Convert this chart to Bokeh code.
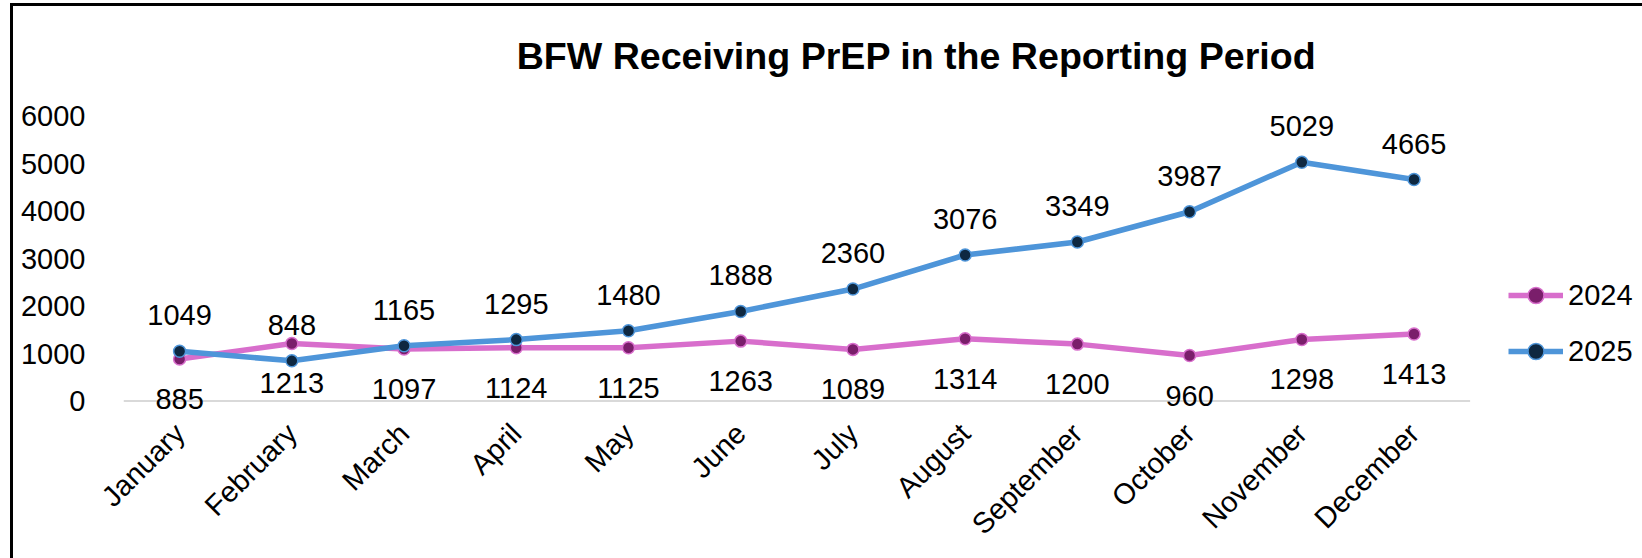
from math import pi
from bokeh.plotting import figure
from bokeh.models import ColumnDataSource, LabelSet, Label, Legend, LegendItem, Range1d, FixedTicker
from bokeh.core.properties import value
from bokeh.embed import file_html
from bokeh.resources import INLINE

months = ["January", "February", "March", "April", "May", "June", "July",
          "August", "September", "October", "November", "December"]
values_2024 = [885, 1213, 1097, 1124, 1125, 1263, 1089, 1314, 1200, 960, 1298, 1413]
values_2025 = [1049, 848, 1165, 1295, 1480, 1888, 2360, 3076, 3349, 3987, 5029, 4665]
y_ticks = [0, 1000, 2000, 3000, 4000, 5000, 6000]

title_text = "BFW Receiving PrEP in the Reporting Period"
FONT = "Liberation Sans"
FS = "29px"

c24_line, c24_fill = "#D86ECC", "#7A1E6B"
c25_line, c25_fill = "#4E95D9", "#0E2841"

idx = list(range(len(months)))
src = ColumnDataSource(dict(x=idx, m=months, v24=values_2024, v25=values_2025,
                            l24=[str(v) for v in values_2024],
                            l25=[str(v) for v in values_2025]))

W, H = 1632, 555
# frame extends to the top of the canvas (empty headroom holds the title)
p = figure(width=W, height=H, x_range=Range1d(-0.5, 13.045),
           y_range=Range1d(-450, 8307), output_backend="svg", toolbar_location=None,
           min_border_left=110, min_border_right=2, min_border_top=0,
           min_border_bottom=139)
p.title = None

p.outline_line_color = None
p.xgrid.grid_line_color = None
p.ygrid.grid_line_color = None
p.background_fill_color = "white"
p.border_fill_color = "white"
p.styles = {"border-top": "3px solid black", "border-left": "3px solid black",
            "margin-left": "10px", "margin-top": "3px"}

p.add_layout(Label(x=793, y=367, x_units="screen", y_units="screen", text=title_text,
                   text_align="center", text_baseline="middle",
                   text_font=FONT, text_font_size="37.6px",
                   text_font_style="bold", text_color="black"))

p.yaxis.ticker = y_ticks
p.yaxis.axis_line_color = None
p.yaxis.major_tick_line_color = None
p.yaxis.minor_tick_line_color = None
p.yaxis.major_label_text_font = FONT
p.yaxis.major_label_text_font_size = FS
p.yaxis.major_label_text_color = "black"
p.yaxis.major_label_standoff = 32

p.xaxis.ticker = FixedTicker(ticks=idx)
p.xaxis.major_label_overrides = {i: m for i, m in zip(idx, months)}
p.xaxis.axis_line_color = None
p.xaxis.major_tick_line_color = None
p.xaxis.minor_tick_line_color = None
p.xaxis.major_label_orientation = pi / 4
p.xaxis.major_label_text_font = FONT
p.xaxis.major_label_text_font_size = FS
p.xaxis.major_label_text_color = "black"
p.xaxis.major_label_standoff = 0

# category axis baseline (spans the category band only)
p.segment(x0=[idx[0] - 0.5], x1=[idx[-1] + 0.5], y0=[0], y1=[0],
          line_color="#D9D9D9", line_width=2)

l24 = p.line("x", "v24", source=src, line_color=c24_line, line_width=5.5)
s24 = p.scatter("x", "v24", source=src, size=12, fill_color=c24_fill,
                line_color=c24_line, line_width=1.5)
l25 = p.line("x", "v25", source=src, line_color=c25_line, line_width=5.5)
s25 = p.scatter("x", "v25", source=src, size=12, fill_color=c25_fill,
                line_color=c25_line, line_width=1.5)

p.add_layout(LabelSet(x="x", y="v24", text="l24", source=src, y_offset=-40,
                      text_align="center", text_baseline="middle",
                      text_font=value(FONT), text_font_size=FS, text_color="black"))
p.add_layout(LabelSet(x="x", y="v25", text="l25", source=src, y_offset=36,
                      text_align="center", text_baseline="middle",
                      text_font=value(FONT), text_font_size=FS, text_color="black"))

legend = Legend(items=[LegendItem(label="2024", renderers=[l24, s24]),
                       LegendItem(label="2025", renderers=[l25, s25])],
                location=(1385, 51), orientation="vertical",
                padding=0, margin=0, spacing=16, glyph_width=55, glyph_height=40,
                label_height=40, label_standoff=5,
                label_text_font=FONT, label_text_font_size=FS,
                label_text_color="black", background_fill_alpha=0,
                border_line_color=None)
p.add_layout(legend, "center")

open("out.html", "w").write(file_html(p, INLINE))
